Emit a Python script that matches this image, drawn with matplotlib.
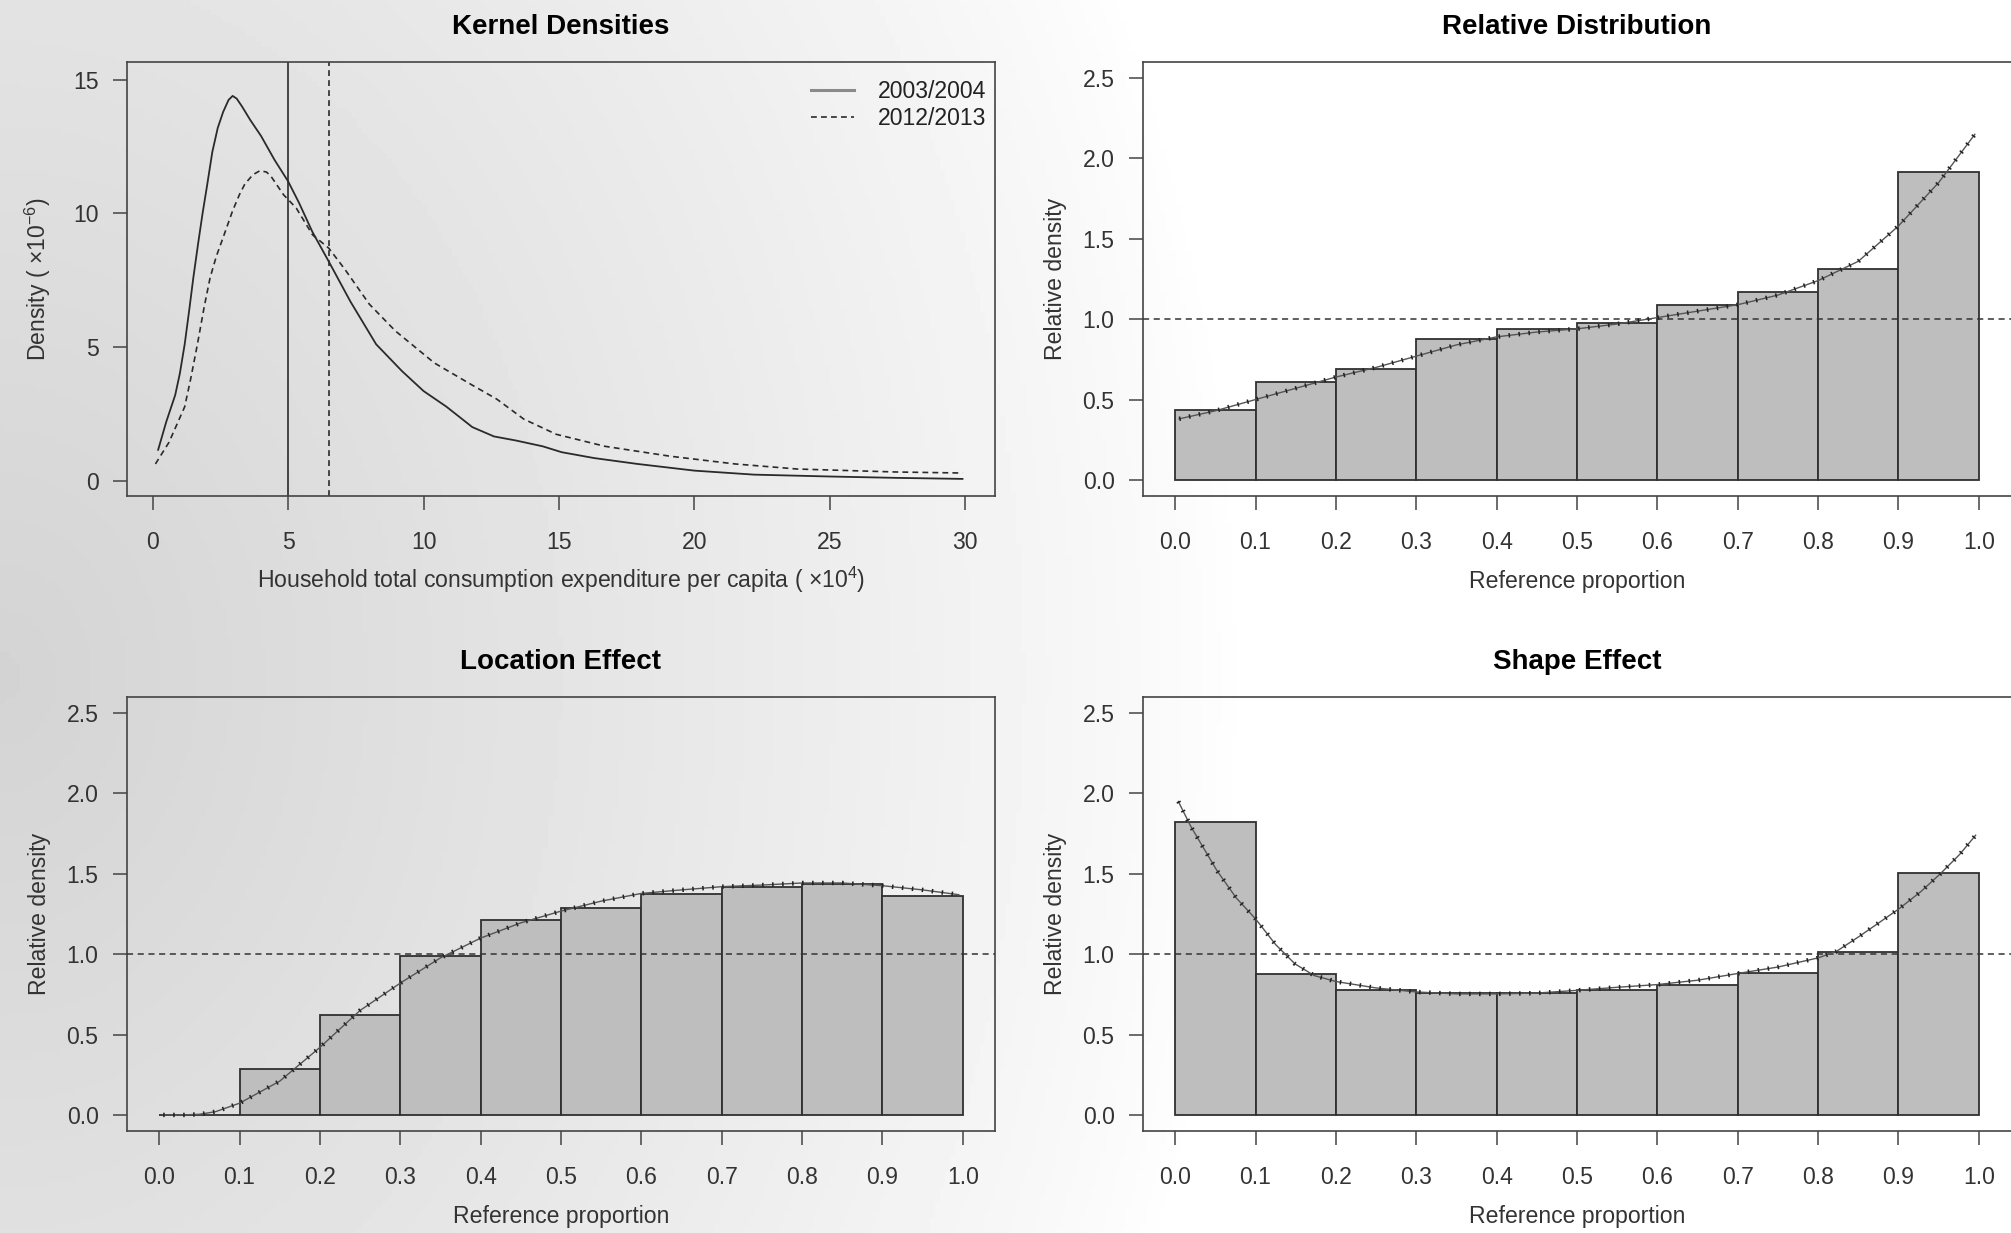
import numpy as np
import matplotlib
matplotlib.use("Agg")
from matplotlib import pyplot as plt

plt.rcParams['font.family'] = ['Liberation Sans', 'DejaVu Sans']
plt.rcParams['mathtext.fontset'] = 'custom'
plt.rcParams['mathtext.rm'] = 'Liberation Sans'
plt.rcParams['mathtext.it'] = 'Liberation Sans:italic'
plt.rcParams['mathtext.bf'] = 'Liberation Sans:bold'

# ---- data ----
years = ["2003/2004", "2012/2013"]

# kernel densities (x in 1e4, density in 1e-6)
dens_x_0304 = [0.2, 0.5, 0.83, 1.0, 1.18, 1.35, 1.5, 1.68, 1.84, 2.0, 2.2, 2.4, 2.6, 2.8, 2.95,
               3.1, 3.3, 3.6, 4.0, 4.5, 5.0, 5.4, 5.9, 6.5, 7.3, 8.25, 9.2, 10.0, 10.85, 11.8,
               12.6, 13.4, 14.4, 15.1, 16.3, 17.9, 20.0, 22.2, 25.0, 27.4, 29.9]
dens_y_0304 = [1.15, 2.2, 3.2, 4.0, 5.1, 6.4, 7.6, 8.9, 10.0, 11.0, 12.3, 13.2, 13.8, 14.25, 14.4,
               14.3, 14.0, 13.5, 12.9, 12.0, 11.2, 10.4, 9.3, 8.2, 6.7, 5.1, 4.1, 3.35, 2.76, 2.0,
               1.65, 1.5, 1.28, 1.06, 0.84, 0.62, 0.37, 0.22, 0.15, 0.1, 0.06]
dens_x_1213 = [0.1, 0.6, 1.18, 1.4, 1.65, 1.9, 2.12, 2.35, 2.6, 2.95, 3.2, 3.4, 3.7, 3.96, 4.2,
               4.36, 4.83, 5.3, 5.9, 6.5, 7.1, 8.0, 8.96, 10.4, 11.8, 12.7, 13.7, 14.9, 16.7,
               19.1, 21.5, 23.8, 27.4, 29.9]
dens_y_1213 = [0.62, 1.43, 2.76, 3.8, 5.1, 6.5, 7.6, 8.4, 9.1, 10.1, 10.7, 11.1, 11.45, 11.6, 11.55,
               11.4, 10.7, 10.2, 9.2, 8.7, 7.9, 6.6, 5.6, 4.4, 3.57, 3.05, 2.3, 1.73, 1.28,
               0.91, 0.62, 0.43, 0.32, 0.28]
median_0304 = 5.0
median_1213 = 6.5

# decile bins of the reference proportion
bin_left = [0.0, 0.1, 0.2, 0.3, 0.4, 0.5, 0.6, 0.7, 0.8, 0.9]
bin_width = 0.1

rel_bars = [0.437, 0.609, 0.69, 0.874, 0.94, 0.977, 1.088, 1.169, 1.314, 1.916]
rel_x = [0.005, 0.05, 0.1, 0.15, 0.2, 0.25, 0.3, 0.35, 0.4, 0.45, 0.5, 0.55, 0.6, 0.65,
         0.7, 0.75, 0.8, 0.85, 0.9, 0.95, 0.995]
rel_y = [0.38, 0.43, 0.50, 0.57, 0.64, 0.70, 0.77, 0.84, 0.89, 0.92, 0.94, 0.97, 1.01, 1.05,
         1.09, 1.15, 1.24, 1.36, 1.58, 1.85, 2.15]

loc_bars = [0.0, 0.284, 0.62, 0.989, 1.215, 1.285, 1.373, 1.419, 1.438, 1.365]
loc_x = [0.005, 0.03, 0.05, 0.07, 0.1, 0.15, 0.2, 0.25, 0.3, 0.35, 0.4, 0.45, 0.5, 0.55,
         0.6, 0.65, 0.7, 0.75, 0.8, 0.85, 0.9, 0.95, 0.995]
loc_y = [0.0, 0.0, 0.004, 0.02, 0.073, 0.21, 0.42, 0.65, 0.82, 0.977, 1.10, 1.195, 1.268, 1.33,
         1.378, 1.40, 1.42, 1.43, 1.443, 1.443, 1.426, 1.40, 1.37]

shape_bars = [1.82, 0.877, 0.775, 0.758, 0.758, 0.777, 0.807, 0.884, 1.013, 1.504]
shape_x = [0.004, 0.02, 0.052, 0.076, 0.1, 0.125, 0.149, 0.173, 0.2, 0.25, 0.3, 0.35, 0.4,
           0.45, 0.5, 0.55, 0.6, 0.65, 0.7, 0.75, 0.8, 0.823, 0.851, 0.9, 0.928, 0.952,
           0.976, 0.996]
shape_y = [1.95, 1.79, 1.52, 1.35, 1.22, 1.06, 0.94, 0.867, 0.83, 0.79, 0.765, 0.753, 0.753,
           0.758, 0.775, 0.794, 0.811, 0.838, 0.88, 0.92, 0.977, 1.018, 1.11, 1.28, 1.39, 1.5,
           1.62, 1.74]

prop_ticks = [0.0, 0.1, 0.2, 0.3, 0.4, 0.5, 0.6, 0.7, 0.8, 0.9, 1.0]
rel_yticks = [0.0, 0.5, 1.0, 1.5, 2.0, 2.5]
dens_xticks = [0, 5, 10, 15, 20, 25, 30]
dens_yticks = [0, 5, 10, 15]

FS = 16.6
INK = "#333333"


def style_axes(ax):
    ax.set_facecolor("none")
    for sp in ax.spines.values():
        sp.set_color("#444444")
        sp.set_linewidth(1.2)
    ax.tick_params(axis="both", direction="out", length=10, width=1.1, color="#444444",
                   labelsize=FS, labelcolor=INK)
    ax.tick_params(axis="x", pad=15)
    ax.tick_params(axis="y", pad=10.5)


def label_axes(ax, xlabel, ylabel, title):
    ax.set_title(title, fontsize=20, fontweight="bold", pad=20, color="black")
    ax.set_xlabel(xlabel, fontsize=FS, color=INK, va="baseline")
    ax.xaxis.set_label_coords(0.5, -0.212)
    ax.set_ylabel(ylabel, fontsize=FS, color=INK, va="baseline")
    ax.yaxis.set_label_coords(-0.0933, 0.5)


def rel_panel(ax, bars, cx, cy, title):
    style_axes(ax)
    ax.bar(bin_left, bars, width=bin_width, align="edge", color="#bebebe",
           edgecolor="#303030", linewidth=1.3, zorder=2)
    ax.axhline(1.0, color="#333333", linestyle=(0, (4, 3)), linewidth=1.1, zorder=3)
    ax.plot(cx, cy, color="#555555", linewidth=1.0, zorder=4)
    ax.plot(cx, cy, color="#222222", linewidth=3.2, linestyle=(0, (0.35, 1.9)), zorder=5)
    ax.set_xlim(-0.04, 1.04)
    ax.set_ylim(-0.1, 2.6)
    ax.set_xticks(prop_ticks)
    ax.set_xticklabels(["%.1f" % t for t in prop_ticks])
    ax.set_yticks(rel_yticks)
    ax.set_yticklabels(["%.1f" % t for t in rel_yticks])
    label_axes(ax, "Reference proportion", "Relative density", title)


def draw_plot():
    fig = plt.figure(figsize=(20.11, 12.33), dpi=100)
    fig.patch.set_facecolor("white")

    # soft grey gradient behind everything
    bg = fig.add_axes([0, 0, 1, 1])
    bg.set_zorder(-10)
    yy, xx = np.mgrid[0:1:240j, 0:1:400j]
    d = np.sqrt((xx / 0.62) ** 2 + ((yy - 0.55) / 1.3) ** 2)
    shade = 1 - 0.17 * np.clip(1 - d, 0, 1) ** 0.8
    bg.imshow(shade, cmap="gray", vmin=0, vmax=1, aspect="auto", extent=[0, 1, 0, 1])
    bg.axis("off")

    w, h = 868 / 2011, 434 / 1233
    x_l, x_r = 127 / 2011, 1143 / 2011
    y_t, y_b = (1233 - 496) / 1233, (1233 - 1131) / 1233

    ax1 = fig.add_axes([x_l, y_t, w, h])
    ax2 = fig.add_axes([x_r, y_t, w, h])
    ax3 = fig.add_axes([x_l, y_b, w, h])
    ax4 = fig.add_axes([x_r, y_b, w, h])

    # kernel densities
    style_axes(ax1)
    ax1.plot(dens_x_0304, dens_y_0304, color="#2a2a2a", linewidth=1.3, label=years[0])
    ax1.plot(dens_x_1213, dens_y_1213, color="#2a2a2a", linewidth=1.2,
             linestyle=(0, (3.5, 2.5)), label=years[1])
    ax1.axvline(median_0304, color="#2a2a2a", linewidth=1.2)
    ax1.axvline(median_1213, color="#2a2a2a", linewidth=1.2, linestyle=(0, (3.5, 2.5)))
    ax1.set_xlim(-0.95, 31.1)
    ax1.set_ylim(-0.58, 15.67)
    ax1.set_xticks(dens_xticks)
    ax1.set_yticks(dens_yticks)
    leg = ax1.legend(loc="upper right", bbox_to_anchor=(1.0, 0.979), frameon=False,
                     fontsize=FS, handlelength=1.9, handletextpad=1.0, labelspacing=0.15,
                     borderaxespad=0, borderpad=0.4)
    leg.get_lines()[0].set_color("#8a8a8a")
    leg.get_lines()[0].set_linewidth(2.2)
    for t in leg.get_texts():
        t.set_color("#222222")
    label_axes(ax1, "Household total consumption expenditure per capita ( \u00d710$^{4}$)",
               "Density ( \u00d710$^{-6}$)", "Kernel Densities")

    rel_panel(ax2, rel_bars, rel_x, rel_y, "Relative Distribution")
    rel_panel(ax3, loc_bars, loc_x, loc_y, "Location Effect")
    rel_panel(ax4, shape_bars, shape_x, shape_y, "Shape Effect")
    # the right-hand boxes are cut off by the image edge
    ax2.spines["right"].set_visible(False)
    ax4.spines["right"].set_visible(False)
    return fig


if __name__ == "__main__":
    fig = draw_plot()
    fig.savefig("out.png", dpi=100)
